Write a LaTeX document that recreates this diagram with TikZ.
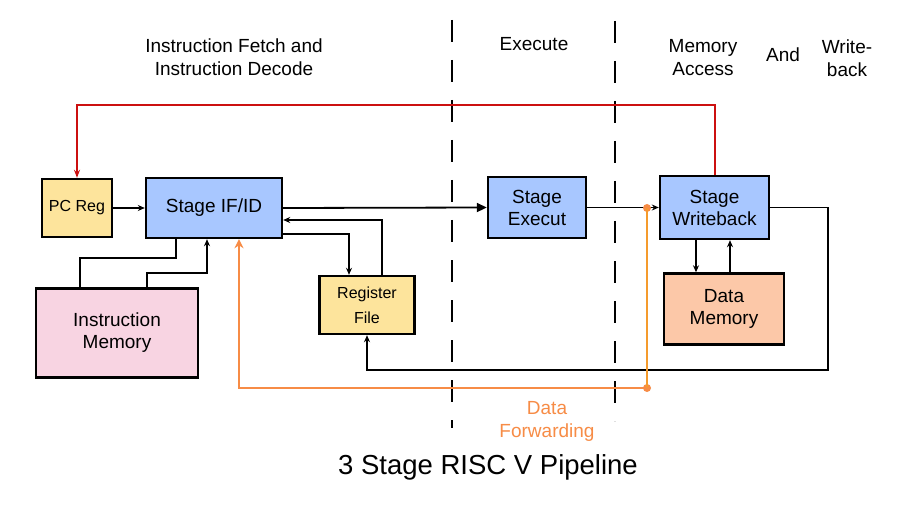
\documentclass[tikz,border=0pt]{standalone}
\usepackage{fontspec}
\setmainfont{Liberation Sans}
\usetikzlibrary{arrows.meta,calc}
\definecolor{boxblue}{RGB}{168,199,255}
\definecolor{boxyellow}{RGB}{253,228,156}
\definecolor{boxpink}{RGB}{248,212,226}
\definecolor{boxsalmon}{RGB}{252,200,168}
\definecolor{fbred}{RGB}{204,16,16}
\definecolor{fworange}{RGB}{247,140,70}
\definecolor{fworange2}{RGB}{245,155,45}
\tikzset{
  blk/.style={draw=black,line width=2.4pt,inner sep=0pt,align=center,
    font=\fontsize{19}{22}\selectfont},
  bluebox/.style={blk,fill=boxblue},
  yelbox/.style={blk,fill=boxyellow,font=\fontsize{16}{25}\selectfont},
  wire/.style={draw=black,line width=1.8pt},
  arr/.style={wire,-{Stealth[length=7pt,width=6pt]}},
  bigarr/.style={wire,-{Triangle[length=10pt,width=9pt]}},
  fb/.style={draw=fbred,line width=2pt,-{Stealth[length=8pt,width=6pt]}},
  fwd/.style={draw=fworange,line width=2pt},
  fwddot/.style={circle,fill=fworange,inner sep=0pt,minimum size=8pt},
  sep/.style={draw=black,line width=2.6pt,dash pattern=on 22pt off 18pt},
  lbl/.style={align=center,font=\fontsize{19}{23}\selectfont}
}
\begin{document}
\begin{tikzpicture}[x=1pt,y=-1pt]
\useasboundingbox[fill=white] (0,0) rectangle (903,508);

% stage separators
\draw[sep] (452,20) -- (452,428);
\draw[sep] (615,21) -- (615,421);

% headings
\node[lbl] (h1) at (234,57) {Instruction Fetch and\\Instruction Decode};
\node[lbl] (h2) at (534,44) {Execute};
\node[lbl] (h3) at (703,58) {Memory\\Access};
\node[lbl] (h4) at (783,55) {And};
\node[lbl] (h5) at (847,58) {Write-\\back};
\node[font=\fontsize{27.5}{30}\selectfont] (title) at (488,467) {3 Stage RISC V Pipeline};
\node[lbl,text=fworange] (dfl) at (547,421) {Data\\Forwarding};

% blocks
\node[yelbox,minimum width=70pt,minimum height=58pt] (pc) at (77,208) {PC Reg};
\node[bluebox,minimum width=136pt,minimum height=60pt] (ifid) at (214,208) {Stage IF/ID};
\node[blk,fill=boxpink,minimum width=162pt,minimum height=89pt] (im) at (117,333) {Instruction\\Memory};
\node[yelbox,minimum width=95pt,minimum height=58pt] (rf) at (367,305) {Register\\File};
\node[bluebox,minimum width=98pt,minimum height=61pt] (ex) at (537,207.5) {Stage\\Execut};
\node[bluebox,minimum width=109pt,minimum height=63pt] (wb) at (714.5,207.5) {Stage\\Writeback};
\node[blk,fill=boxsalmon,minimum width=120pt,minimum height=71pt] (dm) at (724,309) {Data\\Memory};

% helper coordinates
\coordinate (redtop) at (0,105);
\coordinate (imtap) at (0,258);
\coordinate (imup) at (0,273);
\coordinate (rfret) at (0,220);
\coordinate (rfout) at (0,234);
\coordinate (wbret) at (828,370);
\coordinate (ifA) at ($(ifid.south)+(-38,0)$);
\coordinate (imA) at ($(im.north)+(-37,0)$);
\coordinate (imB) at ($(im.north)+(30,0)$);
\coordinate (ifB) at ($(ifid.south)+(-7,0)$);
\coordinate (rfA) at ($(rf.north)+(15,0)$);
\coordinate (rfB) at ($(rf.north)+(-18,0)$);
\coordinate (wbA) at ($(wb.south)+(-18.5,0)$);
\coordinate (dmB) at ($(dm.north)+(6,0)$);
\coordinate (fwleft) at (239,388);

% feedback (red)
\draw[fb] (wb.north) -- (wb.north |- redtop) -| (pc.north);

% main datapath
\draw[arr] (pc.east) -- (ifid.west);
\draw[bigarr] (ifid.east) -- (ex.west);
\draw[arr] (ex.east) -- (wb.west);

% IF/ID <-> instruction memory
\draw[wire] (ifA) -- (ifA |- imtap) -| (imA);
\draw[arr] (imB) -- (imB |- imup) -| (ifB);

% IF/ID <-> register file
\draw[arr] (rfA) |- (ifid.east |- rfret);
\draw[arr] (ifid.east |- rfout) -| (rfB);

% writeback -> register file
\draw[arr] (wb.east) -| (wbret) -| (rf.south);

% writeback <-> data memory
\draw[arr] (wbA) -- (wbA |- dm.north);
\draw[arr] (dmB) -- (dmB |- wb.south);

% data forwarding (orange)
\node[fwddot] (fwtop) at (647,208) {};
\node[fwddot] (fwcorner) at (647,388) {};
\draw[draw=fworange2,line width=2pt] (fwtop.center) -- (fwcorner.center);
\draw[fwd,-{Stealth[length=9pt,width=9pt]}] (fwcorner.center) -- (fwleft) -- (fwleft |- ifid.south);
\end{tikzpicture}
\end{document}
